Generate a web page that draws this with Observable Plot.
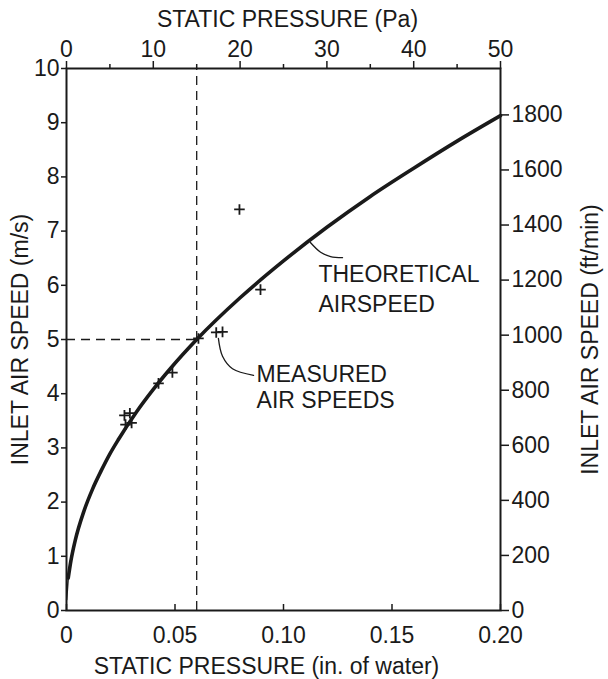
<!DOCTYPE html>
<html>
<head>
<meta charset="utf-8">
<script src="https://cdn.jsdelivr.net/npm/d3@7"></script>
<script src="https://cdn.jsdelivr.net/npm/@observablehq/plot@0.6"></script>
<style>
  html, body { margin: 0; padding: 0; background: #fff; }
  #chart svg { display: block; }
</style>
</head>
<body>
<div id="chart"></div>
<script>
// Theoretical airspeed curve: static pressure (Pa) vs inlet speed (m/s)
const curvePa    = [0.2, 0.5, 1, 2, 3, 4, 5, 6, 8, 10, 12, 15, 20, 25, 30, 35, 40, 45, 50];
const curveSpeed = [0.6, 0.91, 1.29, 1.83, 2.24, 2.58, 2.89, 3.16, 3.65, 4.08, 4.47, 5.0, 5.77, 6.45, 7.07, 7.64, 8.16, 8.66, 9.13];
// thin tail of the curve near the origin
const tailPa    = [0.02, 0.2];
const tailSpeed = [0.2, 0.6];

// Measured air speeds: static pressure (in. of water) vs inlet speed (m/s)
const measuredIn    = [0.0267, 0.0292, 0.0272, 0.0300, 0.0424, 0.0488, 0.0608, 0.0690, 0.0719, 0.0797, 0.0894];
const measuredSpeed = [3.60, 3.64, 3.43, 3.46, 4.19, 4.39, 5.02, 5.13, 5.14, 7.40, 5.92];

// Reference (dashed) point
const refPa = 15;
const refSpeed = 5;

// Tick labels
const bottomTicks = [0, 0.05, 0.10, 0.15, 0.20];
const topMajorPa = [0, 10, 20, 30, 40, 50];
const topMinorPa = [5, 15, 25, 35, 45];
const leftTicks = [0, 1, 2, 3, 4, 5, 6, 7, 8, 9, 10];
const rightTicksFt = [0, 200, 400, 600, 800, 1000, 1200, 1400, 1600, 1800];

// Unit conversions
const PA_PER_IN = 250;       // axis alignment: 50 Pa over 0.20 in. of water
const FTMIN_PER_MS = 196.85; // ft/min per m/s

// Annotation leaders (in. of water, m/s)
const theoLeaderX = [0.1124, 0.1171, 0.1217, 0.1272];
const theoLeaderY = [6.79, 6.61, 6.53, 6.51];
const measLeaderX = [0.0700, 0.0719, 0.0765, 0.0862];
const measLeaderY = [5.02, 4.69, 4.46, 4.34];

const labels = [
  {text: "THEORETICAL", x: 0.1161, y: 6.19},
  {text: "AIRSPEED", x: 0.1161, y: 5.65},
  {text: "MEASURED", x: 0.0876, y: 4.36},
  {text: "AIR SPEEDS", x: 0.0876, y: 3.87}
];

const curve = curvePa.map((p, i) => ({x: p / PA_PER_IN, y: curveSpeed[i]}));
const tail = tailPa.map((p, i) => ({x: p / PA_PER_IN, y: tailSpeed[i]}));
const measured = measuredIn.map((x, i) => ({x, y: measuredSpeed[i]}));
const theoLeader = theoLeaderX.map((x, i) => ({x, y: theoLeaderY[i]}));
const measLeader = measLeaderX.map((x, i) => ({x, y: measLeaderY[i]}));

const refX = refPa / PA_PER_IN;
const ink = "#1a1a1a";
const fs = 23;
const tfs = 23;

const chart = Plot.plot({
  width: 608,
  height: 679,
  marginLeft: 66,
  marginRight: 108,
  marginTop: 68,
  marginBottom: 69,
  style: {fontFamily: "'Liberation Sans', Arial, sans-serif", fontSize: fs + "px", color: ink, background: "#fff"},
  x: {domain: [0, 0.2]},
  y: {domain: [0, 10]},
  marks: [
    // dashed reference lines
    Plot.ruleX([refX], {y1: 0, y2: 10, stroke: ink, strokeWidth: 1.3, strokeDasharray: "9,6"}),
    Plot.ruleY([refSpeed], {x1: 0, x2: refX, stroke: ink, strokeWidth: 1.3, strokeDasharray: "9,6"}),
    // theoretical curve
    Plot.line(tail, {x: "x", y: "y", stroke: ink, strokeWidth: 1.5}),
    Plot.line(curve, {x: "x", y: "y", curve: "monotone-x", stroke: ink, strokeWidth: 3.6}),
    // measured points
    Plot.dot(measured, {x: "x", y: "y", symbol: "plus", r: 3.5, stroke: ink, strokeWidth: 1.8}),
    // leaders
    Plot.line(theoLeader, {x: "x", y: "y", curve: "catmull-rom", stroke: ink, strokeWidth: 1.3}),
    Plot.line(measLeader, {x: "x", y: "y", curve: "catmull-rom", stroke: ink, strokeWidth: 1.3}),
    // annotation text
    Plot.text(labels, {x: "x", y: "y", text: "text", textAnchor: "start", lineAnchor: "middle", fontSize: tfs, fill: ink, style: "letter-spacing:1px"}),
    // frame
    Plot.frame({stroke: ink, strokeWidth: 2}),
    // bottom axis (in. of water), ticks inward
    Plot.axisX({anchor: "bottom", ticks: bottomTicks, tickSize: -6,
      tickPadding: 22, tickFormat: d => d === 0 ? "0" : d.toFixed(2), label: null, fontSize: fs, strokeWidth: 1.5}),
    // top axis (Pa)
    Plot.axisX({anchor: "top", ticks: topMajorPa.map(p => p / PA_PER_IN), tickSize: 8, tickPadding: 4,
      tickFormat: d => String(Math.round(d * PA_PER_IN)), label: null, fontSize: fs, strokeWidth: 1.5}),
    Plot.axisX({anchor: "top", ticks: topMinorPa.map(p => p / PA_PER_IN), tickSize: 5,
      tickFormat: () => "", label: null, strokeWidth: 1.5}),
    // left axis (m/s)
    Plot.axisY({anchor: "left", ticks: leftTicks, tickSize: 5, tickPadding: 2, label: null, fontSize: fs, strokeWidth: 1.5}),
    // right axis (ft/min)
    Plot.axisY({anchor: "right", ticks: rightTicksFt.map(f => f / FTMIN_PER_MS), tickSize: 8, tickPadding: 3,
      tickFormat: d => String(Math.round(d * FTMIN_PER_MS / 10) * 10), label: null, fontSize: fs, strokeWidth: 1.5}),
    // axis titles
    Plot.text(["STATIC PRESSURE (in. of water)"], {frameAnchor: "bottom", dy: 56, dx: -17, textAnchor: "middle", lineAnchor: "middle", fontSize: tfs, fill: ink}),
    Plot.text(["STATIC PRESSURE (Pa)"], {frameAnchor: "top", dy: -49, dx: 4, textAnchor: "middle", lineAnchor: "middle", fontSize: tfs, fill: ink, style: "letter-spacing:0.5px"}),
    Plot.text(["INLET AIR SPEED (m/s)"], {frameAnchor: "left", dx: -46, textAnchor: "middle", rotate: -90, lineAnchor: "middle", fontSize: tfs, fill: ink, style: "letter-spacing:1px"}),
    Plot.text(["INLET AIR SPEED (ft/min)"], {frameAnchor: "right", dx: 90, textAnchor: "middle", rotate: -90, lineAnchor: "middle", fontSize: tfs, fill: ink, style: "letter-spacing:1px"})
  ]
});

document.getElementById("chart").append(chart);
</script>
</body>
</html>
